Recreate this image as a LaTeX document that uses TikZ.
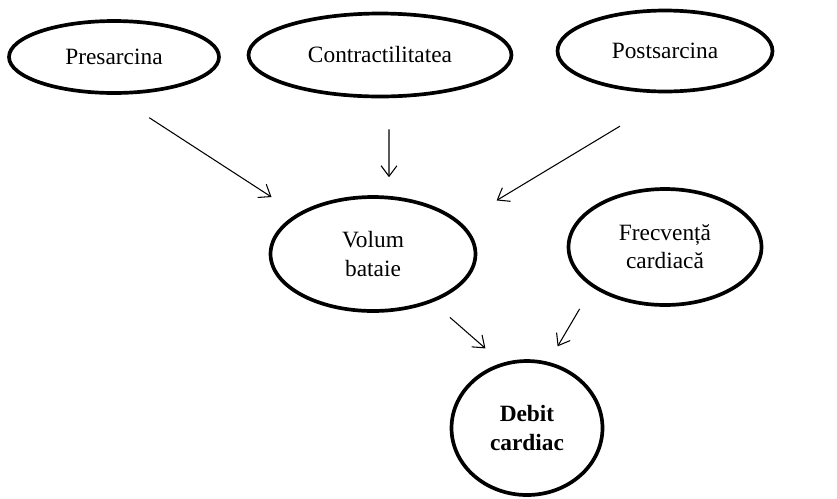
\documentclass[tikz,border=0pt]{standalone}
\usepackage{fontspec}
\setmainfont{Liberation Serif}
\usetikzlibrary{shapes.geometric,arrows.meta}

\tikzset{
  factor/.style={ellipse, draw, line width=2.1pt, align=center, inner sep=0pt,
    font=\fontsize{13.3}{16}\selectfont},
  link/.style={-{Straight Barb[length=6pt,width=9pt]}, line width=0.6pt}
}

\begin{document}
\begin{tikzpicture}[x=0.02cm, y=-0.02cm]
	\useasboundingbox (0,0) rectangle (837,498);
	% Define nodes
	\node[factor, minimum width=4.2cm, minimum height=1.44cm]  (pres)   at (114,57)  {Presarcina};
	\node[factor, minimum width=5.26cm, minimum height=1.66cm] (contr)  at (380,55)  {Contractilitatea};
	\node[factor, minimum width=4.3cm, minimum height=1.62cm]  (post)   at (665,51)  {Postsarcina};
	\node[factor, minimum width=4.1cm, minimum height=2.28cm]  (vol)    at (373,254) {Volum\\bataie};
	\node[factor, minimum width=3.86cm, minimum height=2.32cm] (frec)   at (665,247) {Frecvență\\cardiacă};
	\node[factor, minimum width=3.02cm, minimum height=2.68cm] (debit)  at (527,428) {\textbf{Debit}\\\textbf{cardiac}};
	% Define edges
	\draw[link, shorten <=0.84cm, shorten >=0.61cm] (pres.south) -- (vol.152);
	\draw[link, shorten <=0.62cm, shorten >=0.36cm] ([xshift=0.18cm]contr.south) -- ([xshift=0.32cm]vol.north);
	\draw[link, shorten <=1.28cm, shorten >=0.84cm] (post.283.7) -- (vol.20.4);
	\draw[link, shorten <=0.46cm, shorten >=0.44cm] (vol.321.2) -- (debit.111.6);
	\draw[link, shorten <=0.5cm, shorten >=0.36cm] (frec.209.5) -- (debit.72.5);
\end{tikzpicture}
\end{document}
